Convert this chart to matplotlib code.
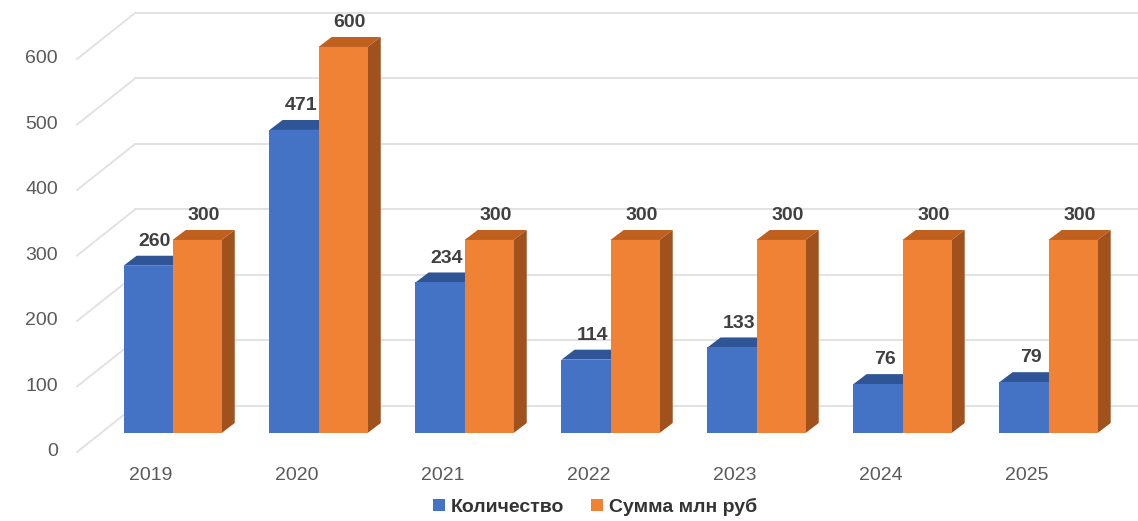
import numpy as np
import matplotlib
matplotlib.use('Agg')
import matplotlib.pyplot as plt
from matplotlib.patches import Patch

plt.rcParams['font.family'] = ['Liberation Sans', 'DejaVu Sans']

# Data
years = ['2019', '2020', '2021', '2022', '2023', '2024', '2025']
count_vals = [260, 471, 234, 114, 133, 76, 79]
sum_vals = [300, 600, 300, 300, 300, 300, 300]
y_ticks = [0, 100, 200, 300, 400, 500, 600]

series = [
    ('Количество', count_vals, '#4472C4', '#2F5597', '#2A4D8A'),
    ('Сумма млн руб', sum_vals, '#F08236', '#C0601E', '#A1521C'),
]

# 3D look parameters (in data units)
bar_w = 0.336
dx, dy = 0.09, 15.5
wall_k, wall_off = 1.018, 42.0     # back wall scale / lift
label_off = -29.5                  # value-axis labels sit below the front plane
wall_x0, diag_x0 = -0.257, -0.654

fig = plt.figure(figsize=(11.38, 5.21), dpi=100)
ax = fig.add_axes([0, 0, 1, 1])
ax.set_xlim(-1.182, 6.613)
ax.set_ylim(-136.8, 673)
ax.axis('off')

# back wall gridlines + diagonal floor/side lines, value labels
for t in y_ticks:
    yw = wall_off + t * wall_k
    yl = label_off + t * wall_k
    ax.plot([wall_x0, 6.7], [yw, yw], color='#e2e2e2', lw=1.4, zorder=1)
    ax.plot([diag_x0, wall_x0], [yl, yw], color='#e2e2e2', lw=1.4, zorder=1)
    ax.text(diag_x0 - 0.13, yl, f'{t}', ha='right', va='center',
            fontsize=14, color='#5a5a5a')

x = np.arange(len(years))
for i, (name, vals, c_front, c_top, c_side) in enumerate(series):
    lefts = x - bar_w + i * bar_w
    z = 3 + i * 2
    for left, h in zip(lefts, vals):
        right = left + bar_w
        # top face
        ax.fill([left, right, right + dx, left + dx],
                [h, h, h + dy, h + dy], color=c_top, zorder=z, lw=0)
        # side face
        ax.fill([right, right + dx, right + dx, right],
                [0, dy, h + dy, h], color=c_side, zorder=z, lw=0)
        ax.text(left + bar_w / 2 + dx / 2, h + dy + 9, f'{h}',
                ha='center', va='bottom', fontsize=14, fontweight='bold',
                color='#404040', zorder=10)
    ax.bar(lefts, vals, bar_w, align='edge', color=c_front, zorder=z + 1,
           linewidth=0)

# category labels
for xi, yr in zip(x, years):
    ax.text(xi - 0.15, -66.8, yr, ha='center', va='center',
            fontsize=14, color='#5a5a5a')

handles = [Patch(facecolor=s[2], edgecolor='none') for s in series]
leg = ax.legend(handles, [s[0] for s in series], loc='center',
                bbox_to_anchor=(0.523, 0.027), ncol=2, frameon=False,
                handlelength=0.6, handleheight=0.6, handletextpad=0.3,
                columnspacing=1.4,
                prop={'size': 14, 'weight': 'bold'})
for txt in leg.get_texts():
    txt.set_color('#333333')

fig.savefig('out.png', dpi=100)
